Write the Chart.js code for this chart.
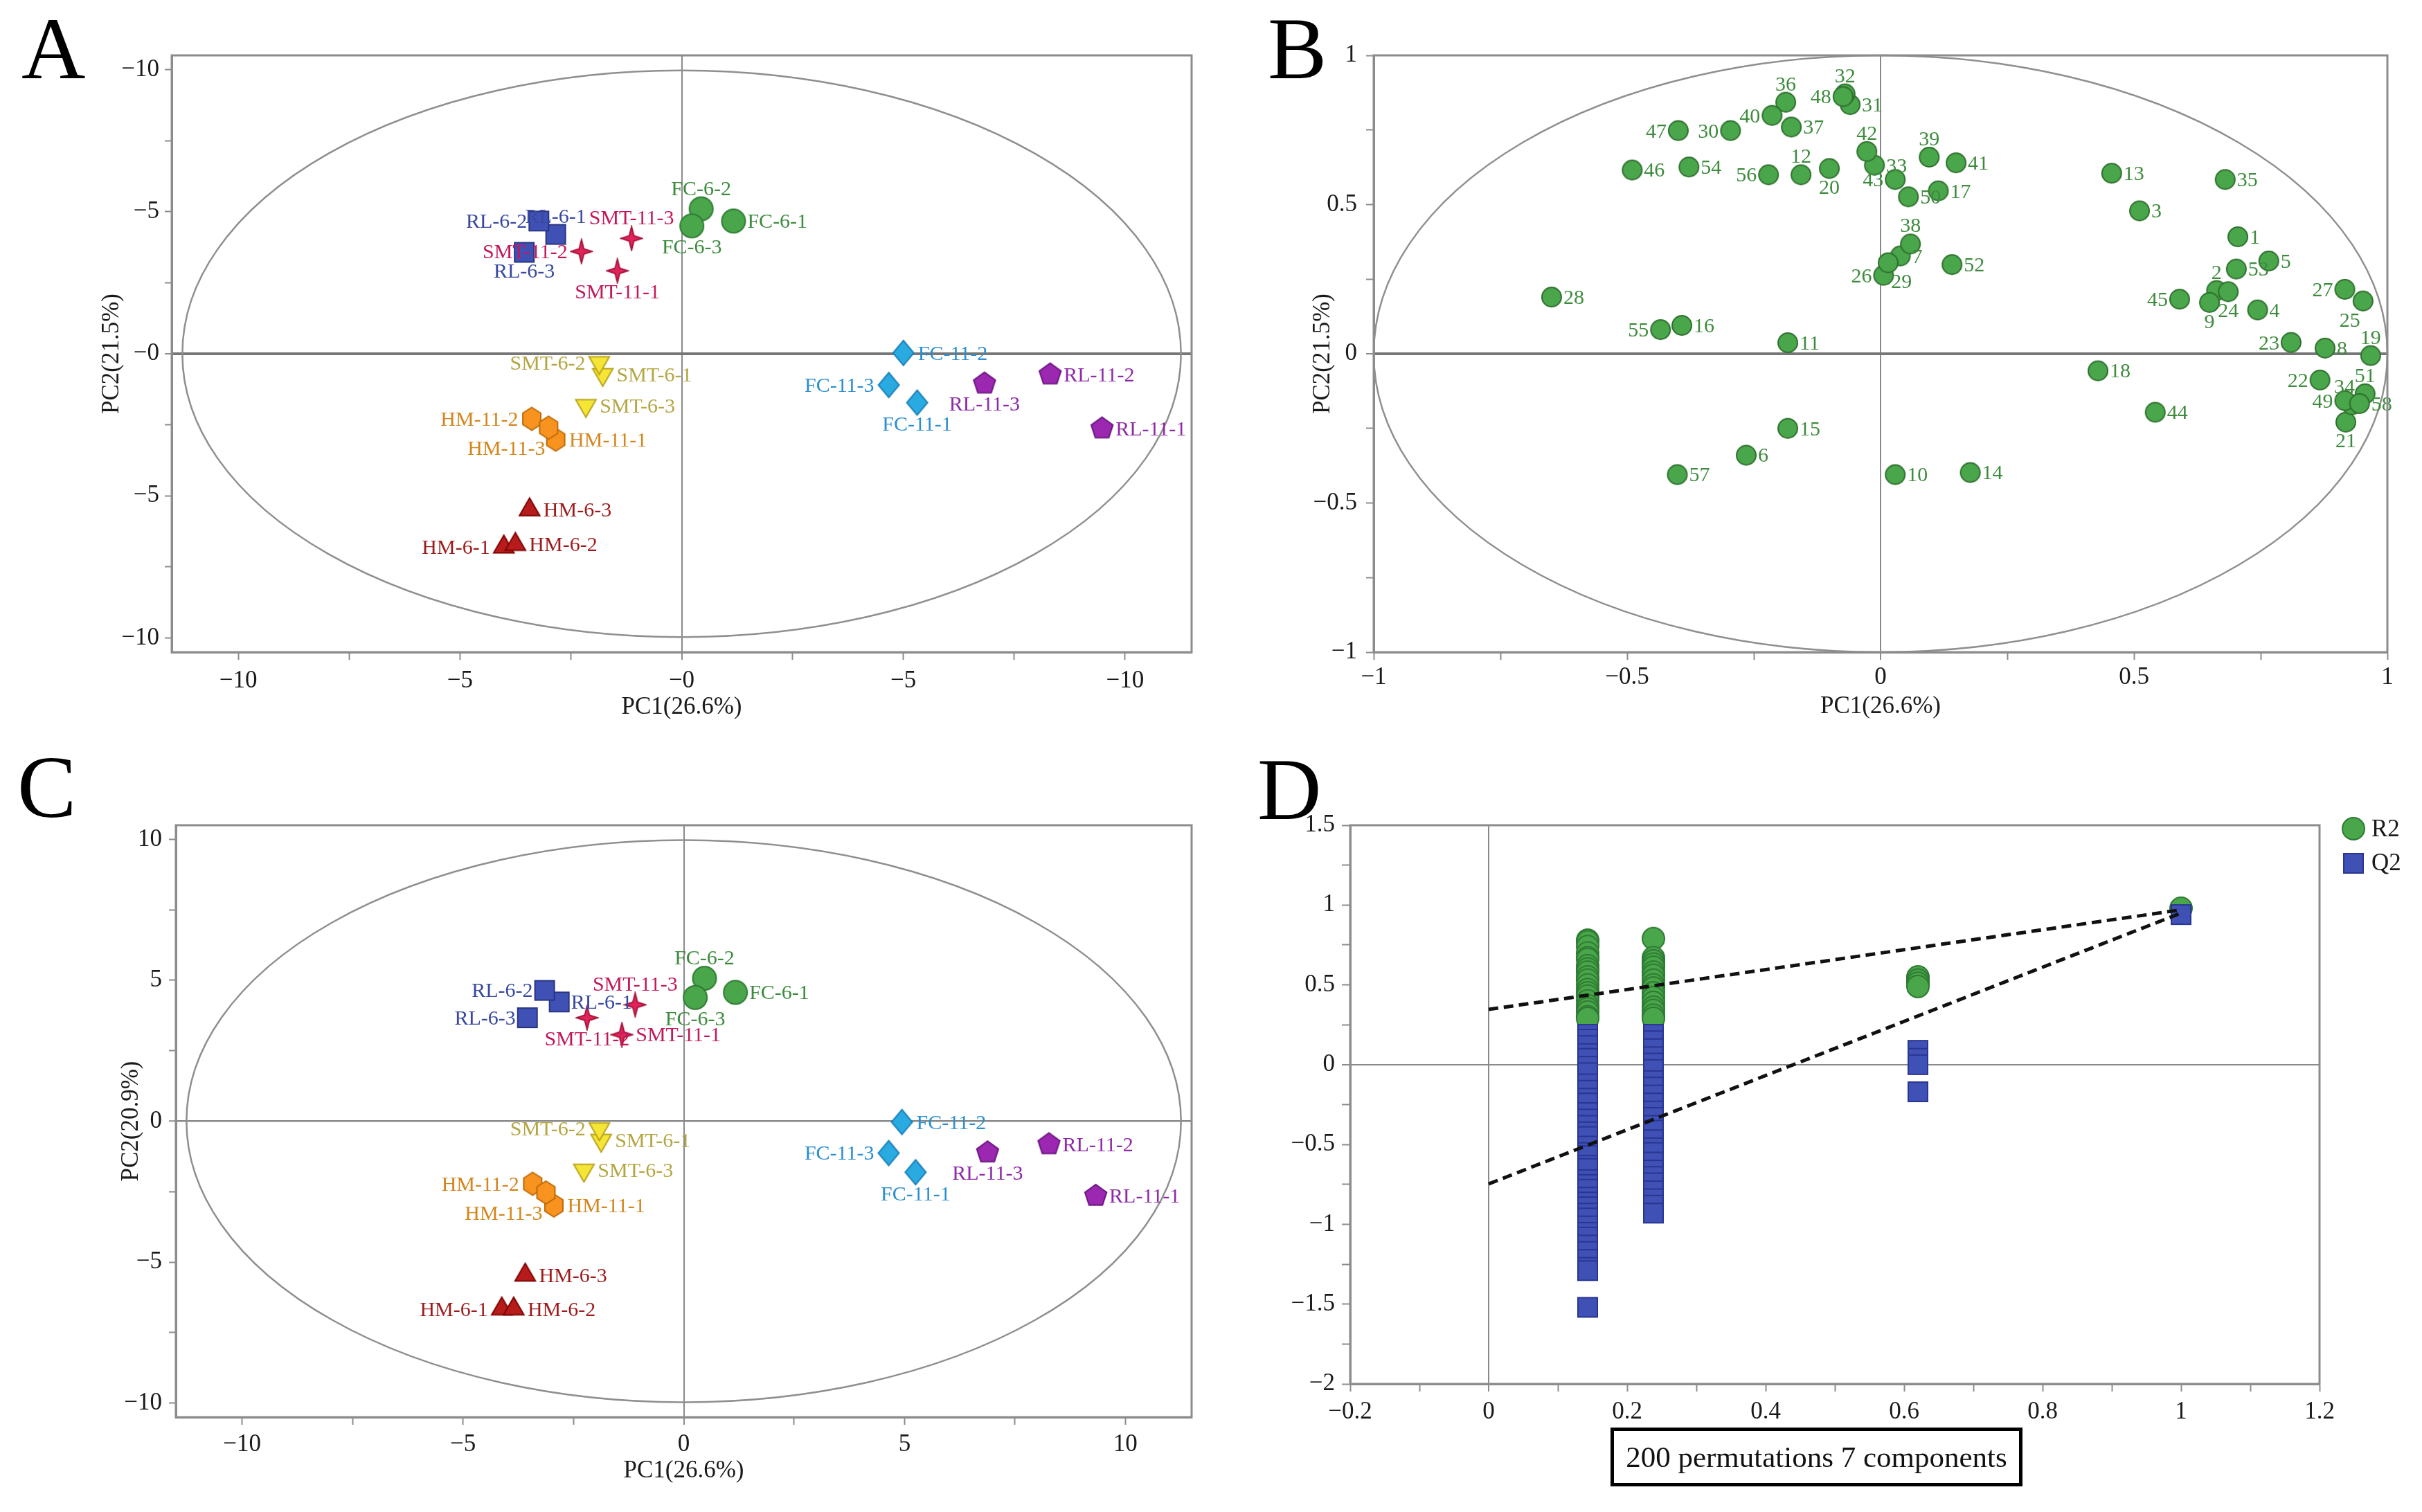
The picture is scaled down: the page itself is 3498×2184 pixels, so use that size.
<!DOCTYPE html>
<html>
<head>
  <meta charset="UTF-8">
  <title>PCA score / loading plots and permutation test</title>
  <style>
    body {
      margin: 0;
      width: 3498px;
      height: 2184px;
      position: relative;
      overflow: hidden;
      background: #fff;
      font-family: 'Liberation Serif', 'Times New Roman', serif;
    }
    canvas { position: absolute; }
    .letter {
      position: absolute;
      font-size: 128px;
      line-height: 128px;
      color: #000;
    }
    .permbox {
      position: absolute;
      left: 2326px;
      top: 2062px;
      width: 585px;
      height: 75px;
      border: 5px solid #000;
      display: flex;
      align-items: center;
      justify-content: center;
      font-size: 43px;
      white-space: nowrap;
      color: #111;
    }
  </style>
  <script src="https://cdn.jsdelivr.net/npm/chart.js"></script>
</head>
<body>
  <div class="letter" style="left:31px;top:6px">A</div>
  <div class="letter" style="left:1831px;top:6px">B</div>
  <div class="letter" style="left:25px;top:1073px">C</div>
  <div class="letter" style="left:1816px;top:1076px">D</div>

  <canvas id="chartA" width="1749" height="1092" style="left:0;top:0"></canvas>
  <canvas id="chartB" width="1749" height="1092" style="left:1749px;top:0"></canvas>
  <canvas id="chartC" width="1749" height="1092" style="left:0;top:1092px"></canvas>
  <canvas id="chartD" width="1749" height="1092" style="left:1749px;top:1092px"></canvas>

  <div class="permbox">200 permutations 7 components</div>

  <script>
    // ---------- A / C : score plots ----------
    const sampleNames = ['FC-6-1','FC-6-2','FC-6-3','RL-6-1','RL-6-2','RL-6-3',
      'SMT-11-1','SMT-11-2','SMT-11-3','SMT-6-1','SMT-6-2','SMT-6-3',
      'HM-11-1','HM-11-2','HM-11-3','HM-6-1','HM-6-2','HM-6-3',
      'FC-11-1','FC-11-2','FC-11-3','RL-11-1','RL-11-2','RL-11-3'];
    const groupNames = ['FC-6','RL-6','SMT-11','SMT-6','HM-11','HM-6','FC-11','RL-11'];

    const scoreA_x = [1.17, 0.44, 0.23, -2.84, -3.22, -3.55, -1.45, -2.26, -1.13, -1.78, -1.86, -2.16,
      -2.84, -3.38, -3.00, -4.01, -3.75, -3.43, 5.31, 5.00, 4.67, 9.48, 8.31, 6.83];
    const scoreA_y = [4.67, 5.10, 4.50, 4.20, 4.67, 3.57, 2.92, 3.60, 4.06, -0.73, -0.31, -1.82,
      -3.02, -2.29, -2.60, -6.80, -6.71, -5.49, -1.72, 0.03, -1.10, -2.63, -0.73, -1.05];

    const scoreC_x = [1.17, 0.47, 0.26, -2.82, -3.15, -3.54, -1.40, -2.19, -1.10, -1.87, -1.91, -2.26,
      -2.94, -3.42, -3.12, -4.12, -3.85, -3.59, 5.25, 4.94, 4.64, 9.33, 8.27, 6.88];
    const scoreC_y = [4.57, 5.07, 4.39, 4.23, 4.64, 3.67, 3.07, 3.67, 4.13, -0.68, -0.27, -1.74,
      -2.99, -2.22, -2.53, -6.66, -6.66, -5.46, -1.81, -0.03, -1.13, -2.65, -0.82, -1.11];

    const scoreTicks = [-10, -7.5, -5, -2.5, 0, 2.5, 5, 7.5, 10];
    const scoreMajor = [-10, -5, 0, 5, 10];
    const scoreEllipse = [11.26, 9.97];

    // ---------- B : loading plot ----------
    const loadIds = ['1','2','3','4','5','6','7','8','9','10','11','12','13','14','15','16','17','18','19','20',
      '21','22','23','24','25','26','27','28','29','30','31','32','33','34','35','36','37','38','39','40',
      '41','42','43','44','45','46','47','48','49','50','51','52','53','54','55','56','57','58'];
    const loadX = [0.705, 0.663, 0.511, 0.744, 0.766, -0.265, 0.039, 0.877, 0.649, 0.029,
      -0.183, -0.157, 0.456, 0.177, -0.183, -0.392, 0.114, 0.429, 0.967, -0.101,
      0.918, 0.867, 0.810, 0.686, 0.952, 0.006, 0.916, -0.649, 0.015, -0.296,
      -0.060, -0.070, -0.012, 0.930, 0.680, -0.187, -0.176, 0.059, 0.096, -0.214,
      0.149, -0.027, 0.029, 0.542, 0.590, -0.490, -0.399, -0.074, 0.916, 0.055,
      0.956, 0.141, 0.702, -0.378, -0.434, -0.221, -0.401, 0.945];
    const loadY = [0.392, 0.212, 0.479, 0.147, 0.311, -0.340, 0.328, 0.019, 0.172, -0.405,
      0.037, 0.600, 0.605, -0.398, -0.250, 0.095, 0.546, -0.057, -0.006, 0.621,
      -0.229, -0.088, 0.038, 0.208, 0.177, 0.263, 0.216, 0.190, 0.305, 0.748,
      0.835, 0.871, 0.632, -0.171, 0.584, 0.843, 0.760, 0.368, 0.659, 0.799,
      0.640, 0.678, 0.584, -0.196, 0.183, 0.616, 0.748, 0.862, -0.157, 0.526,
      -0.134, 0.299, 0.284, 0.626, 0.081, 0.600, -0.405, -0.167];
    const loadTicks = [-1, -0.75, -0.5, -0.25, 0, 0.25, 0.5, 0.75, 1];
    const loadMajor = [-1, -0.5, 0, 0.5, 1];
    const loadEllipse = [1, 1];

    // ---------- D : permutation test ----------
    const permX = [0.143, 0.238, 0.62, 1];
    const r2Perm = [
      [0.78, 0.77, 0.74, 0.70, 0.67, 0.66, 0.62, 0.60, 0.58, 0.55, 0.53, 0.50, 0.47, 0.45, 0.43, 0.40, 0.37, 0.35, 0.33, 0.30, 0.29],
      [0.79, 0.67, 0.65, 0.63, 0.61, 0.58, 0.56, 0.53, 0.50, 0.48, 0.45, 0.42, 0.39, 0.36, 0.34, 0.31, 0.29],
      [0.55, 0.53, 0.51, 0.49],
      [0.98]
    ];
    const q2Perm = [
      [0.19, 0.16, 0.12, 0.07, 0.04, -0.01, -0.05, -0.12, -0.16, -0.21, -0.24, -0.30, -0.34, -0.38, -0.42,
       -0.45, -0.51, -0.55, -0.57, -0.63, -0.65, -0.72, -0.75, -0.78, -0.83, -0.86, -0.89, -0.93, -0.96,
       -1.01, -1.05, -1.08, -1.13, -1.17, -1.22, -1.27, -1.29, -1.52],
      [0.19, 0.15, 0.10, 0.05, 0.01, -0.03, -0.10, -0.14, -0.19, -0.24, -0.29, -0.33, -0.38, -0.41, -0.47,
       -0.52, -0.55, -0.61, -0.66, -0.70, -0.74, -0.79, -0.84, -0.88, -0.93],
      [0.09, 0.04, 0.00, -0.17],
      [0.94]
    ];
    const fitLineX = [0, 1];
    const r2LineY = [0.346, 0.97];
    const q2LineY = [-0.747, 0.95];
    const permXTicks = [-0.2, -0.1, 0, 0.1, 0.2, 0.3, 0.4, 0.5, 0.6, 0.7, 0.8, 0.9, 1, 1.1, 1.2];
    const permXMajor = [-0.2, 0, 0.2, 0.4, 0.6, 0.8, 1, 1.2];
    const permYTicks = [-2, -1.75, -1.5, -1.25, -1, -0.75, -0.5, -0.25, 0, 0.25, 0.5, 0.75, 1, 1.25, 1.5];
    const permYMajor = [-2, -1.5, -1, -0.5, 0, 0.5, 1, 1.5];

    // ---------- styles ----------
    const groupStyle = {
      'FC-6':   { shape: 'circle',   w: 34, h: 34, fill: '#4aa64a', stroke: '#2d7a32', text: '#3d8b3d' },
      'RL-6':   { shape: 'square',   w: 28, h: 28, fill: '#3f51b5', stroke: '#2a3580', text: '#3949a0' },
      'SMT-11': { shape: 'star4',    w: 30, h: 34, fill: '#e0245a', stroke: '#a8143c', text: '#c2185b' },
      'SMT-6':  { shape: 'triDown',  w: 34, h: 34, fill: '#f5e536', stroke: '#b8a21a', text: '#b5a642' },
      'HM-11':  { shape: 'hexagon',  w: 30, h: 33, fill: '#f7931e', stroke: '#c06a0a', text: '#d4861c' },
      'HM-6':   { shape: 'triUp',    w: 34, h: 34, fill: '#b71c1c', stroke: '#7f0000', text: '#9e1b1b' },
      'FC-11':  { shape: 'diamond',  w: 30, h: 36, fill: '#29abe2', stroke: '#1a7fb8', text: '#2a8fd0' },
      'RL-11':  { shape: 'pentagon', w: 33, h: 33, fill: '#9c27b0', stroke: '#6a1580', text: '#8e2aa6' }
    };
    const labelPosA = ['r','t','b','t','l','b','b','l','t','r','l','r','r','l','bl','l','r','r','b','r','l','r','r','b'];
    const labelPosC = ['r','t','b','r','l','l','r','b','t','r','l','r','r','l','bl','l','r','r','b','r','l','r','r','b'];
    const loadLabelPos = ['r','t','r','r','r','r','r','r','b','r','r','t','r','r','r','r','r','r','t','b',
      'b','l','l','b','bl','l','l','r','br','l','r','t','r','tl','r','t','r','t','t','l',
      'r','t','l','r','l','r','l','l','l','r','t','r','r','r','l','l','r','r'];

    const AXIS_GREY = '#8c8c8c';
    const LABEL_FONT = 30;

    Chart.defaults.font.family = "'Liberation Serif', 'Times New Roman', serif";
    Chart.defaults.color = '#1a1a1a';

    // marker images (Chart.js draws canvas point styles centred on the point)
    function makeShape(kind, w, h, fill, stroke) {
      const c = document.createElement('canvas');
      c.width = w + 4;
      c.height = h + 4;
      const g = c.getContext('2d');
      const cx = c.width / 2, cy = c.height / 2, rx = w / 2, ry = h / 2;
      const poly = (n, rot, inner) => {
        const steps = inner ? n * 2 : n;
        for (let k = 0; k < steps; k++) {
          const a = rot + k * 2 * Math.PI / steps;
          const f = inner && k % 2 ? inner : 1;
          const px = cx + rx * f * Math.cos(a), py = cy + ry * f * Math.sin(a);
          if (k) g.lineTo(px, py); else g.moveTo(px, py);
        }
        g.closePath();
      };
      g.beginPath();
      if (kind === 'circle') g.ellipse(cx, cy, rx, ry, 0, 0, Math.PI * 2);
      else if (kind === 'square') g.rect(cx - rx, cy - ry, w, h);
      else if (kind === 'diamond') poly(4, -Math.PI / 2);
      else if (kind === 'triUp') poly(3, -Math.PI / 2);
      else if (kind === 'triDown') poly(3, Math.PI / 2);
      else if (kind === 'pentagon') poly(5, -Math.PI / 2);
      else if (kind === 'hexagon') poly(6, -Math.PI / 2);
      else if (kind === 'star4') poly(4, -Math.PI / 2, 0.32);
      g.fillStyle = fill;
      g.fill();
      g.lineWidth = 2;
      g.strokeStyle = stroke;
      g.stroke();
      return c;
    }

    const fmtMinusAll = v => '\u2212' + Math.abs(v);
    const fmtSigned = v => v < 0 ? '\u2212' + Math.abs(v) : String(v);

    function makeAxis(cfg) {
      return {
        type: 'linear',
        position: cfg.pos,
        min: cfg.min,
        max: cfg.max,
        afterBuildTicks: s => { s.ticks = cfg.ticks.map(v => ({ value: v })); },
        afterFit: s => { if (cfg.pos === 'left') s.width = cfg.size; else s.height = cfg.size; },
        ticks: {
          autoSkip: false,
          maxRotation: 0,
          minRotation: 0,
          padding: cfg.pad,
          font: { size: 35 },
          color: '#1a1a1a',
          callback: v => cfg.major.includes(v) ? cfg.fmt(v) : ''
        },
        grid: {
          drawOnChartArea: true,
          drawTicks: true,
          tickLength: cfg.tl,
          tickWidth: 2,
          tickColor: AXIS_GREY,
          color: c => (c.tick && c.tick.value === 0) ? cfg.zeroColor : 'rgba(0,0,0,0)',
          lineWidth: c => (c.tick && c.tick.value === 0) ? cfg.zeroWidth : 1
        },
        border: { display: true, color: AXIS_GREY, width: 3 },
        title: cfg.title
          ? { display: true, text: cfg.title, font: { size: 35 }, color: '#1a1a1a', padding: cfg.titlePad }
          : { display: false }
      };
    }

    // ellipse + frame
    const framePlugin = {
      id: 'frame',
      beforeDatasetsDraw(chart, args, opts) {
        if (!opts.ellipse) return;
        const { ctx, scales: { x, y } } = chart;
        const cx = x.getPixelForValue(0), cy = y.getPixelForValue(0);
        const rx = Math.abs(x.getPixelForValue(opts.ellipse[0]) - cx);
        const ry = Math.abs(y.getPixelForValue(opts.ellipse[1]) - cy);
        ctx.save();
        ctx.beginPath();
        ctx.ellipse(cx, cy, rx, ry, 0, 0, Math.PI * 2);
        ctx.strokeStyle = '#8f8f8f';
        ctx.lineWidth = 2.5;
        ctx.stroke();
        ctx.restore();
      },
      afterDraw(chart) {
        const { ctx, chartArea: a } = chart;
        ctx.save();
        ctx.strokeStyle = AXIS_GREY;
        ctx.lineWidth = 3;
        ctx.strokeRect(a.left, a.top, a.right - a.left, a.bottom - a.top);
        ctx.restore();
      }
    };

    // text labels next to points
    const labelPlugin = {
      id: 'ptLabels',
      afterDatasetsDraw(chart) {
        const ctx = chart.ctx;
        const cap = LABEL_FONT * 0.66, gap = 3;
        chart.data.datasets.forEach((ds, i) => {
          if (!ds.ptLabels) return;
          const meta = chart.getDatasetMeta(i);
          ctx.save();
          ctx.font = LABEL_FONT + "px 'Liberation Serif'";
          ctx.fillStyle = ds.labelColor;
          ctx.textBaseline = 'alphabetic';
          meta.data.forEach((el, j) => {
            const r = ds.labelGap, pos = ds.labelPos[j];
            let x = el.x, y = el.y, align = 'center';
            if (pos === 'r') { x += r + gap; y += cap / 2; align = 'left'; }
            else if (pos === 'l') { x -= r + gap; y += cap / 2; align = 'right'; }
            else if (pos === 't') { y -= r + gap; }
            else if (pos === 'b') { y += r + gap + cap; }
            else if (pos === 'tl') { x += r * 0.3; y -= r + gap; align = 'right'; }
            else if (pos === 'bl') { x -= r * 0.3; y += r + gap + cap; align = 'right'; }
            else if (pos === 'br') { x += r * 0.3; y += r + gap + cap; align = 'left'; }
            ctx.textAlign = align;
            ctx.fillText(ds.ptLabels[j], x, y);
          });
          ctx.restore();
        });
      }
    };

    function groupOf(name) { return name.slice(0, name.lastIndexOf('-')); }

    function scoreDatasets(xs, ys, labelPos) {
      return groupNames.map(g => {
        const st = groupStyle[g];
        const idx = sampleNames.map((n, i) => i).filter(i => groupOf(sampleNames[i]) === g);
        return {
          label: g,
          data: idx.map(i => ({ x: xs[i], y: ys[i] })),
          pointStyle: makeShape(st.shape, st.w, st.h, st.fill, st.stroke),
          pointRadius: st.w / 2,
          ptLabels: idx.map(i => sampleNames[i]),
          labelPos: idx.map(i => labelPos[i]),
          labelColor: st.text,
          labelGap: Math.max(st.w, st.h) / 2
        };
      });
    }

    function baseOptions(box, xAxis, yAxis, frameOpts) {
      return {
        responsive: false,
        animation: false,
        devicePixelRatio: 1,
        events: [],
        layout: { padding: { left: 0, top: box.T, right: 1749 - box.R, bottom: 0 } },
        plugins: { legend: { display: false }, tooltip: { enabled: false }, frame: frameOpts },
        scales: { x: xAxis, y: yAxis }
      };
    }

    // ---- A ----
    const boxA = { L: 248, T: 80, R: 1721, B: 942 };
    new Chart(document.getElementById('chartA'), {
      type: 'scatter',
      data: { datasets: scoreDatasets(scoreA_x, scoreA_y, labelPosA) },
      options: baseOptions(boxA,
        makeAxis({ pos: 'bottom', min: -11.5, max: 11.5, ticks: scoreTicks, major: scoreMajor, fmt: fmtMinusAll,
          size: 1092 - boxA.B, tl: 11, pad: 10, zeroColor: '#8a8a8a', zeroWidth: 2,
          title: 'PC1(26.6%)', titlePad: { top: 0, bottom: 49 } }),
        makeAxis({ pos: 'left', min: -10.5, max: 10.5, ticks: scoreTicks, major: scoreMajor, fmt: fmtMinusAll,
          size: boxA.L, tl: 10, pad: 8, zeroColor: '#777777', zeroWidth: 4,
          title: 'PC2(21.5%)', titlePad: { top: 141, bottom: 0 } }),
        { ellipse: scoreEllipse }),
      plugins: [framePlugin, labelPlugin]
    });

    // ---- B ----
    const boxB = { L: 235, T: 80, R: 1699, B: 942 };
    const loadShape = makeShape('circle', 28, 28, '#4aa64a', '#2d6e2d');
    new Chart(document.getElementById('chartB'), {
      type: 'scatter',
      data: {
        datasets: [{
          label: 'loadings',
          data: loadIds.map((id, i) => ({ x: loadX[i], y: loadY[i] })),
          pointStyle: loadShape,
          pointRadius: 14,
          ptLabels: loadIds,
          labelPos: loadLabelPos,
          labelColor: '#3d8b3d',
          labelGap: 14
        }]
      },
      options: baseOptions(boxB,
        makeAxis({ pos: 'bottom', min: -1, max: 1, ticks: loadTicks, major: loadMajor, fmt: fmtSigned,
          size: 1092 - boxB.B, tl: 11, pad: 5, zeroColor: '#8a8a8a', zeroWidth: 2,
          title: 'PC1(26.6%)', titlePad: { top: 0, bottom: 50 } }),
        makeAxis({ pos: 'left', min: -1, max: 1, ticks: loadTicks, major: loadMajor, fmt: fmtSigned,
          size: boxB.L, tl: 11, pad: 13, zeroColor: '#777777', zeroWidth: 4,
          title: 'PC2(21.5%)', titlePad: { top: 141, bottom: 0 } }),
        { ellipse: loadEllipse }),
      plugins: [framePlugin, labelPlugin]
    });

    // ---- C ----
    const boxC = { L: 254, T: 100, R: 1721, B: 955 };
    new Chart(document.getElementById('chartC'), {
      type: 'scatter',
      data: { datasets: scoreDatasets(scoreC_x, scoreC_y, labelPosC) },
      options: baseOptions(boxC,
        makeAxis({ pos: 'bottom', min: -11.5, max: 11.5, ticks: scoreTicks, major: scoreMajor, fmt: fmtSigned,
          size: 1092 - boxC.B, tl: 11, pad: 8, zeroColor: '#8a8a8a', zeroWidth: 2,
          title: 'PC1(26.6%)', titlePad: { top: 0, bottom: 38 } }),
        makeAxis({ pos: 'left', min: -10.5, max: 10.5, ticks: scoreTicks, major: scoreMajor, fmt: fmtSigned,
          size: boxC.L, tl: 10, pad: 10, zeroColor: '#8a8a8a', zeroWidth: 2.5,
          title: 'PC2(20.9%)', titlePad: { top: 169, bottom: 0 } }),
        { ellipse: scoreEllipse }),
      plugins: [framePlugin, labelPlugin]
    });

    // ---- D ----
    const boxD = { L: 201, T: 100, R: 1601, B: 907 };
    const r2Shape = makeShape('circle', 32, 32, '#4aa64a', '#2d7a32');
    const q2Shape = makeShape('square', 28, 28, '#3f51b5', '#283593');
    const legendPlugin = {
      id: 'sideLegend',
      afterDraw(chart) {
        const { ctx, chartArea: a } = chart;
        const items = [[r2Shape, 'R2', 5, 16], [q2Shape, 'Q2', 55, 65]];
        ctx.save();
        ctx.font = "35px 'Liberation Serif'";
        ctx.fillStyle = '#1a1a1a';
        ctx.textAlign = 'left';
        ctx.textBaseline = 'alphabetic';
        items.forEach(([img, txt, dy, by]) => {
          ctx.drawImage(img, a.right + 49 - img.width / 2, a.top + dy - img.height / 2);
          ctx.fillText(txt, a.right + 75, a.top + by);
        });
        ctx.restore();
      }
    };
    const lineDs = (ys) => ({
      data: fitLineX.map((x, i) => ({ x, y: ys[i] })),
      showLine: true,
      borderColor: '#111',
      borderWidth: 5,
      borderDash: [14, 8],
      pointRadius: 0,
      order: 0
    });
    new Chart(document.getElementById('chartD'), {
      type: 'scatter',
      data: {
        datasets: [
          lineDs(r2LineY),
          lineDs(q2LineY),
          {
            label: 'Q2',
            data: permX.flatMap((x, c) => q2Perm[c].map(y => ({ x, y }))),
            pointStyle: q2Shape,
            pointRadius: 14,
            order: 1
          },
          {
            label: 'R2',
            data: permX.flatMap((x, c) => r2Perm[c].map(y => ({ x, y }))),
            pointStyle: r2Shape,
            pointRadius: 16,
            order: 2
          }
        ]
      },
      options: baseOptions(boxD,
        makeAxis({ pos: 'bottom', min: -0.2, max: 1.2, ticks: permXTicks, major: permXMajor, fmt: fmtSigned,
          size: 1092 - boxD.B, tl: 11, pad: 9, zeroColor: '#8a8a8a', zeroWidth: 2 }),
        makeAxis({ pos: 'left', min: -2, max: 1.5, ticks: permYTicks, major: permYMajor, fmt: fmtSigned,
          size: boxD.L, tl: 12, pad: 10, zeroColor: '#8a8a8a', zeroWidth: 2 }),
        {}),
      plugins: [framePlugin, legendPlugin]
    });
  </script>
</body>
</html>
